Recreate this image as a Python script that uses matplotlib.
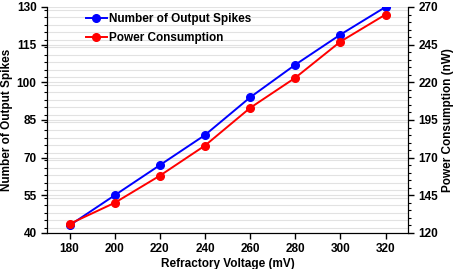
import matplotlib
matplotlib.use("Agg")
import matplotlib.pyplot as plt
from matplotlib.ticker import MultipleLocator

plt.rcParams['font.family'] = ['Liberation Sans', 'DejaVu Sans']
plt.rcParams['font.weight'] = 'bold'

voltage = [180, 200, 220, 240, 260, 280, 300, 320]
spikes = [43, 55, 67, 79, 94, 107, 119, 130]
power = [126, 140, 158, 178, 203, 223, 247, 265]

fig, ax = plt.subplots(figsize=(4.56, 2.69), dpi=100)
ax2 = ax.twinx()

l1, = ax.plot(voltage, spikes, color='#0000ff', marker='o', ms=5.5, lw=1.4,
              label='Number of Output Spikes', zorder=3)
l2, = ax2.plot(voltage, power, color='#ff0000', marker='o', ms=5.5, lw=1.4,
               label='Power Consumption', zorder=3)

ax.set_xlim(170, 330)
ax.set_ylim(40, 130)
ax2.set_ylim(120, 270)
ax.set_xticks(voltage)
ax.set_yticks(range(40, 131, 15))
ax.yaxis.set_minor_locator(MultipleLocator(3))
ax2.set_yticks(range(120, 271, 25))
ax2.yaxis.set_minor_locator(MultipleLocator(5))

ax.grid(True, which='both', axis='y', color='#e2e2e2', lw=0.8)
ax.set_axisbelow(True)

for a in (ax, ax2):
    a.spines['top'].set_visible(False)
    a.tick_params(labelsize=8.5, width=1, length=4)
    a.tick_params(which='minor', width=0.8, length=2.5)
ax.tick_params(axis='x', which='minor', bottom=False)

ax.set_xlabel('Refractory Voltage (mV)', fontsize=8.5, fontweight='bold', labelpad=2)
ax.set_ylabel('Number of Output Spikes', fontsize=8.5, fontweight='bold', labelpad=3)
ax2.set_ylabel('Power Consumption (nW)', fontsize=8.5, fontweight='bold', labelpad=3)

ax.legend(handles=[l1, l2], loc='upper left', bbox_to_anchor=(0.078, 1.02),
          frameon=False, fontsize=8.5, handlelength=1.8, handletextpad=0.15,
          labelspacing=0.6)

fig.subplots_adjust(left=0.103, right=0.895, top=0.974, bottom=0.134)
fig.savefig('out.png', dpi=100)
